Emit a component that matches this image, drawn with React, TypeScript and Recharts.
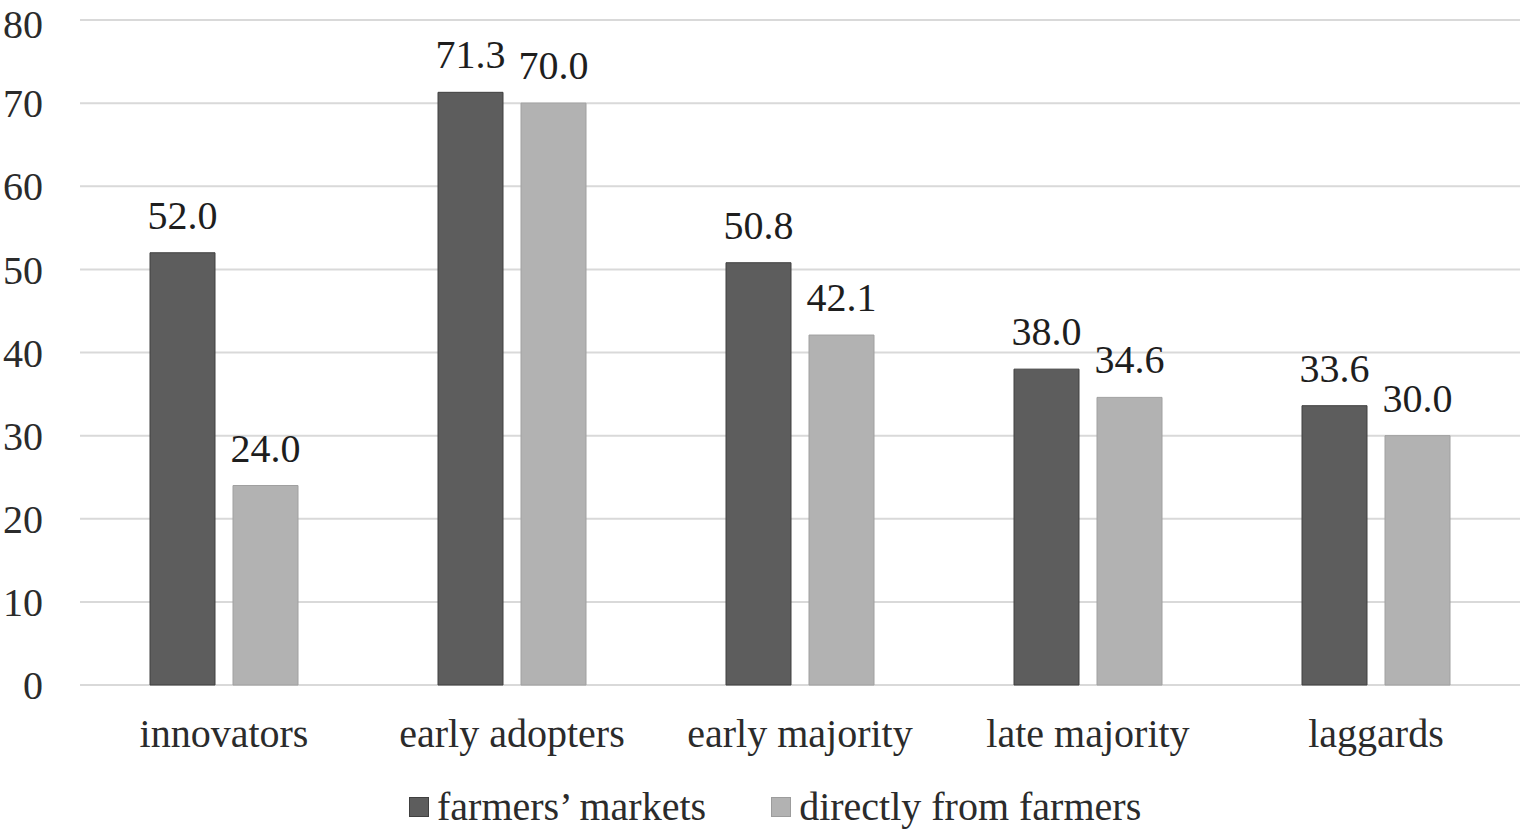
import { Bar, BarChart, CartesianGrid, LabelList, Legend, XAxis, YAxis } from 'recharts'

const categories = ['innovators', 'early adopters', 'early majority', 'late majority', 'laggards']
const farmersMarkets = [52.0, 71.3, 50.8, 38.0, 33.6]
const directlyFromFarmers = [24.0, 70.0, 42.1, 34.6, 30.0]
const yTicks = [0, 10, 20, 30, 40, 50, 60, 70, 80]
const seriesOrder = ['markets', 'direct']

const data = categories.map((name, i) => ({
  name,
  markets: farmersMarkets[i],
  direct: directlyFromFarmers[i],
}))

const FONT = '"Liberation Serif", "Times New Roman", serif'
const borders: Record<string, string> = { markets: '#404040', direct: '#9c9c9c' }

function LegendContent({ payload }: any) {
  const items = [...(payload || [])].sort(
    (a: any, b: any) => seriesOrder.indexOf(a.dataKey) - seriesOrder.indexOf(b.dataKey)
  )
  return (
    <div style={{ display: 'flex', alignItems: 'center', height: 40, fontFamily: FONT, fontSize: 40, lineHeight: '40px', color: '#2b2b2b' }}>
      {items.map((p: any, i: number) => (
        <div key={p.value} style={{ display: 'flex', alignItems: 'center', marginRight: i === 0 ? 65 : 0 }}>
          <span
            style={{
              display: 'inline-block',
              width: 18,
              height: 18,
              background: p.color,
              border: `1px solid ${borders[p.dataKey] || p.color}`,
              marginRight: 8,
            }}
          />
          <span>{p.value}</span>
        </div>
      ))}
    </div>
  )
}

export default function App() {
  return (
    <div style={{ position: 'absolute', left: 0, top: 0, width: 1524, height: 834, background: '#fff' }}>
      <BarChart
        width={1524}
        height={834}
        data={data}
        margin={{ top: 20, right: 4, left: 0, bottom: 49 }}
        barSize={65}
        barGap={18}
      >
        <CartesianGrid vertical={false} stroke="#d9d9d9" strokeWidth={2} />
        <XAxis
          dataKey="name"
          height={100}
          axisLine={false}
          tickLine={false}
          tickSize={0}
          tickMargin={34}
          tick={{ fontFamily: FONT, fontSize: 40, fill: '#2b2b2b' }}
        />
        <YAxis
          width={80}
          domain={[0, 80]}
          ticks={yTicks}
          axisLine={false}
          tickLine={false}
          tickSize={0}
          tickMargin={37}
          tick={{ fontFamily: FONT, fontSize: 40, fill: '#2b2b2b' }}
        />
        <Legend
          layout="horizontal"
          verticalAlign="middle"
          align="center"
          wrapperStyle={{ top: 787, left: 409, width: 900 }}
          content={<LegendContent />}
        />
        <Bar dataKey="markets" name="farmers’ markets" fill="#5d5d5d" stroke="#404040" strokeWidth={1} isAnimationActive={false}>
          <LabelList
            dataKey="markets"
            position="top"
            offset={24}
            formatter={(v: any) => Number(v).toFixed(1)}
            style={{ fontFamily: FONT, fontSize: 40, fill: '#1e1e1e' }}
          />
        </Bar>
        <Bar dataKey="direct" name="directly from farmers" fill="#b2b2b2" stroke="#a0a0a0" strokeWidth={1} isAnimationActive={false}>
          <LabelList
            dataKey="direct"
            position="top"
            offset={24}
            formatter={(v: any) => Number(v).toFixed(1)}
            style={{ fontFamily: FONT, fontSize: 40, fill: '#1e1e1e' }}
          />
        </Bar>
      </BarChart>
    </div>
  )
}
